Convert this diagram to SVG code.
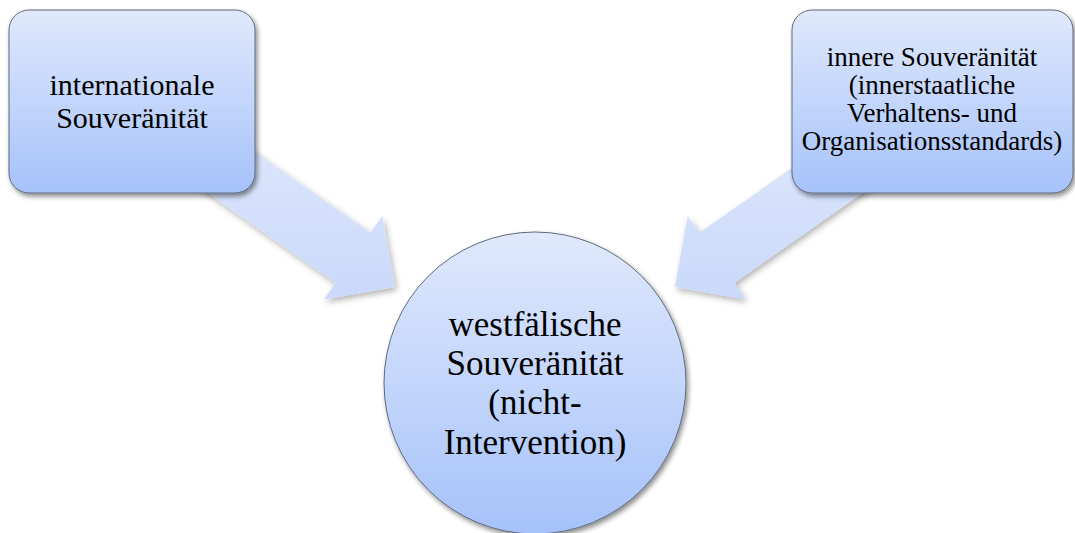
<svg xmlns="http://www.w3.org/2000/svg" width="1075" height="533" viewBox="0 0 1075 533">
<defs>
<linearGradient id="nodeGrad" x1="0" y1="0" x2="0" y2="1">
<stop offset="0" stop-color="#e0e9fc"/>
<stop offset="1" stop-color="#a6c2fa"/>
</linearGradient>
<linearGradient id="arrowGrad" gradientUnits="userSpaceOnUse" x1="0" y1="150" x2="0" y2="300">
<stop offset="0" stop-color="#dbe5fc"/>
<stop offset="1" stop-color="#cad9fa"/>
</linearGradient>
<filter id="shadow" x="-20%" y="-20%" width="140%" height="140%">
<feDropShadow dx="2" dy="3" stdDeviation="2.5" flood-color="#000" flood-opacity="0.45"/>
</filter>
<filter id="ashadow" x="-20%" y="-20%" width="140%" height="140%">
<feDropShadow dx="2" dy="3" stdDeviation="3" flood-color="#000" flood-opacity="0.3"/>
</filter>
</defs>
<style>
.node{fill:url(#nodeGrad);stroke:#5f6b7d;stroke-width:1;filter:url(#shadow)}
.arrow{fill:url(#arrowGrad);filter:url(#ashadow)}
.lbl{font-family:"Liberation Serif","DejaVu Serif",serif;fill:#000;text-anchor:middle}
</style>
<g id="connectors">
<path class="arrow" d="M395,287 L324.0,299.5 L335.6,282.7 L172.6,168.6 L207.6,118.6 L370.6,232.7 L382.3,215.9 Z"/>
<path class="arrow" d="M675,287 L746.0,299.5 L734.4,282.7 L897.4,168.6 L862.4,118.6 L699.4,232.7 L687.7,215.9 Z"/>
</g>
<g id="node-international">
<rect class="node" x="9" y="10" width="246" height="183" rx="20" ry="20"/>
<text class="lbl" font-family="Liberation Serif, serif" font-size="30"><tspan x="132" y="95">internationale</tspan><tspan x="132" y="128">Souveränität</tspan></text>
</g>
<g id="node-innere">
<rect class="node" x="792" y="10" width="281" height="183" rx="20" ry="20"/>
<text class="lbl" font-family="Liberation Serif, serif" font-size="27"><tspan x="932" y="66">innere Souveränität</tspan><tspan x="932" y="94">(innerstaatliche</tspan><tspan x="932" y="122">Verhaltens- und</tspan><tspan x="932" y="150">Organisationsstandards)</tspan></text>
</g>
<g id="node-westfaelisch">
<circle class="node" cx="535" cy="383" r="151"/>
<text class="lbl" font-family="Liberation Serif, serif" font-size="35"><tspan x="535" y="336">westfälische</tspan><tspan x="535" y="375">Souveränität</tspan><tspan x="535" y="414">(nicht-</tspan><tspan x="535" y="454">Intervention)</tspan></text>
</g>
</svg>
